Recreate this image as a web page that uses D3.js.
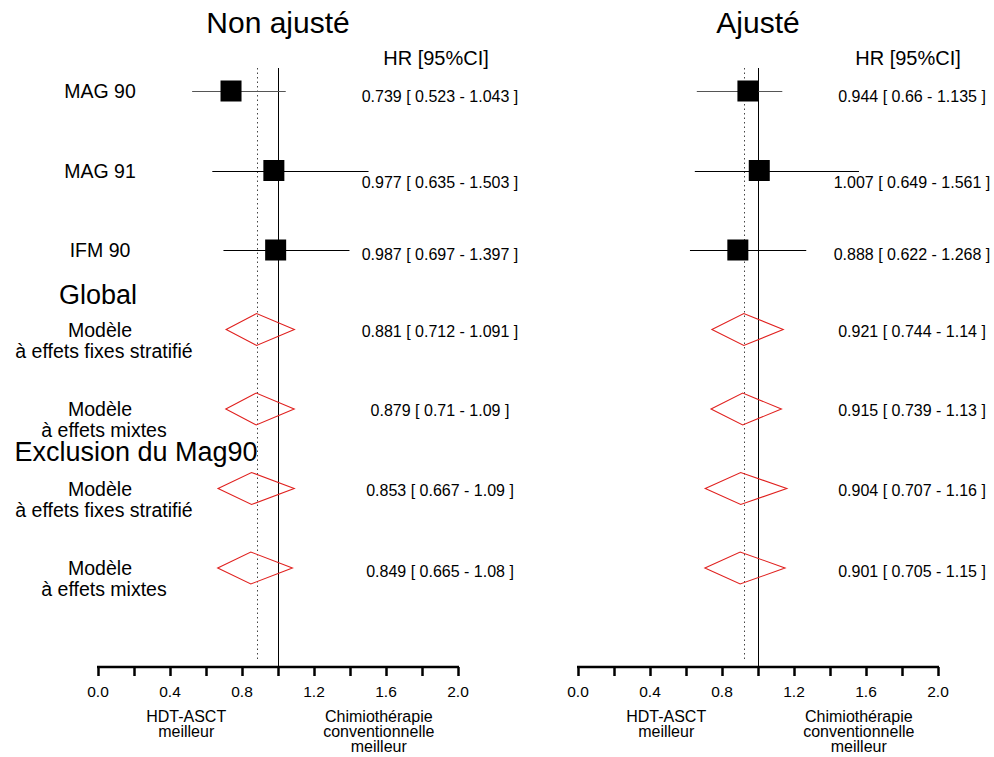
<!DOCTYPE html>
<html>
<head>
<meta charset="utf-8">
<script src="https://cdn.jsdelivr.net/npm/d3@7"></script>
<style>
body { margin: 0; background: #fff; }
text { font-family: "Liberation Sans", Arial, sans-serif; fill: #000; }
</style>
</head>
<body>
<div id="root"></div>
<script>
var width = 994;
var height = 757;

// rows of the forest plot
var rowLabels = [["MAG 90"], ["MAG 91"], ["IFM 90"],
	["Modèle", "à effets fixes stratifié"], ["Modèle", "à effets mixtes"],
	["Modèle", "à effets fixes stratifié"], ["Modèle", "à effets mixtes"]];
var rowKind = ["study", "study", "study", "pooled", "pooled", "pooled", "pooled"];
var headers = [{ text: "Global", after: 2.55 }, { text: "Exclusion du Mag90", after: 4.53 }];

// non ajusté
var hrRaw = [0.739, 0.977, 0.987, 0.881, 0.879, 0.853, 0.849];
var lowRaw = [0.523, 0.635, 0.697, 0.712, 0.71, 0.667, 0.665];
var highRaw = [1.043, 1.503, 1.397, 1.091, 1.09, 1.09, 1.08];
var ciTextRaw = ["0.739 [ 0.523 - 1.043 ]", "0.977 [ 0.635 - 1.503 ]", "0.987 [ 0.697 - 1.397 ]",
	"0.881 [ 0.712 - 1.091 ]", "0.879 [ 0.71 - 1.09 ]", "0.853 [ 0.667 - 1.09 ]", "0.849 [ 0.665 - 1.08 ]"];

// ajusté
var hrAdj = [0.944, 1.007, 0.888, 0.921, 0.915, 0.904, 0.901];
var lowAdj = [0.66, 0.649, 0.622, 0.744, 0.739, 0.707, 0.705];
var highAdj = [1.135, 1.561, 1.268, 1.14, 1.13, 1.16, 1.15];
var ciTextAdj = ["0.944 [ 0.66 - 1.135 ]", "1.007 [ 0.649 - 1.561 ]", "0.888 [ 0.622 - 1.268 ]",
	"0.921 [ 0.744 - 1.14 ]", "0.915 [ 0.739 - 1.13 ]", "0.904 [ 0.707 - 1.16 ]", "0.901 [ 0.705 - 1.15 ]"];

var tickValues = [0, 0.2, 0.4, 0.6, 0.8, 1, 1.2, 1.4, 1.6, 1.8, 2];
var tickLabels = ["0.0", "0.4", "0.8", "1.2", "1.6", "2.0"];
var leftNote = ["HDT-ASCT", "meilleur"];
var rightNote = ["Chimiothérapie", "conventionnelle", "meilleur"];

var svg = d3.select("#root")
.append("svg")
.attr("width", width)
.attr("height", height);

var y = d3.scaleLinear().domain([0, 6]).range([91, 568]);
var axisY = 667;
// small vertical nudge of the HR text, as in the original
var hrShift = [5, 12, 4, 2, 1, 2, 3];

/* row labels on the far left */
rowLabels.forEach(function(lines, i) {
	var t = svg.append("text")
	.attr("x", 100)
	.attr("y", y(i) + 7)
	.attr("text-anchor", "middle")
	.attr("font-size", "19.5px");
	lines.forEach(function(l, j) {
		t.append("tspan").attr("x", j == 0 ? 100 : 104).attr("dy", j == 0 ? 0 : 21).text(l);
	});
});
headers.forEach(function(h, i) {
	svg.append("text")
	.attr("x", i == 0 ? 98 : 136)
	.attr("y", y(h.after) + 10)
	.attr("text-anchor", "middle")
	.attr("font-size", "27px")
	.text(h.text);
});

function panel(x0, title, hr, low, high, ciText, hrCenter) {
	var x = d3.scaleLinear().domain([0, 2]).range([x0, x0 + 360]);
	var g = svg.append("g");

	g.append("text")
	.attr("x", x(1))
	.attr("y", 33)
	.attr("text-anchor", "middle")
	.attr("font-size", "30px")
	.text(title);

	g.append("text")
	.attr("x", hrCenter - 4)
	.attr("y", 65)
	.attr("text-anchor", "middle")
	.attr("font-size", "20px")
	.text("HR [95%CI]");

	// reference lines
	g.append("line")
	.attr("x1", Math.round(x(hr[3])) + 0.5).attr("x2", Math.round(x(hr[3])) + 0.5)
	.attr("y1", 68).attr("y2", axisY - 6)
	.attr("stroke", "#444")
	.attr("stroke-dasharray", "1.5,3");
	g.append("line")
	.attr("x1", x(1) + 0.5).attr("x2", x(1) + 0.5)
	.attr("y1", 68).attr("y2", axisY)
	.attr("stroke", "#000");

	// axis
	var axis = d3.axisBottom(x)
	.tickValues(tickValues)
	.tickSize(9)
	.tickFormat("");
	var ax = g.append("g")
	.attr("transform", "translate(0," + axisY + ")")
	.call(axis);
	ax.select(".domain").attr("stroke-width", 2.5).attr("d", "M" + (x(0) - 1) + ",0H" + (x(2) + 1));
	ax.selectAll(".tick line").attr("stroke-width", 2.5);

	tickLabels.forEach(function(l) {
		g.append("text")
		.attr("x", x(+l))
		.attr("y", 697)
		.attr("text-anchor", "middle")
		.attr("font-size", "15.5px")
		.text(l);
	});

	leftNote.forEach(function(l, j) {
		g.append("text")
		.attr("x", x(0.49))
		.attr("y", 722 + j * 15)
		.attr("text-anchor", "middle")
		.attr("font-size", "16px")
		.text(l);
	});
	rightNote.forEach(function(l, j) {
		g.append("text")
		.attr("x", x(1.56))
		.attr("y", 722 + j * 15)
		.attr("text-anchor", "middle")
		.attr("font-size", "16px")
		.text(l);
	});

	// CI lines + squares for studies, diamonds for pooled models
	hr.forEach(function(v, i) {
		var cy = y(i);
		if (rowKind[i] == "study") {
			g.append("line")
			.attr("x1", x(low[i])).attr("x2", x(high[i]))
			.attr("y1", Math.round(cy) + 0.5).attr("y2", Math.round(cy) + 0.5)
			.attr("stroke", i == 0 ? "#555" : "#000");
			g.append("rect")
			.attr("x", x(v) - 10.5).attr("y", cy - 10.5)
			.attr("width", 21).attr("height", 21)
			.attr("fill", "#000");
		} else {
			var pts = [[x(low[i]), cy], [x(v), cy - 16], [x(high[i]), cy], [x(v), cy + 16]];
			g.append("path")
			.attr("d", d3.line()(pts) + "Z")
			.attr("fill", "none")
			.attr("stroke", "#e0201e")
			.attr("stroke-width", 1.1);
		}
		g.append("text")
		.attr("x", hrCenter)
		.attr("y", cy + hrShift[i] + 5.5)
		.attr("text-anchor", "middle")
		.attr("font-size", "16px")
		.text(ciText[i]);
	});
}

panel(98, "Non ajusté", hrRaw, lowRaw, highRaw, ciTextRaw, 440);
panel(578, "Ajusté", hrAdj, lowAdj, highAdj, ciTextAdj, 912);
</script>
</body>
</html>
